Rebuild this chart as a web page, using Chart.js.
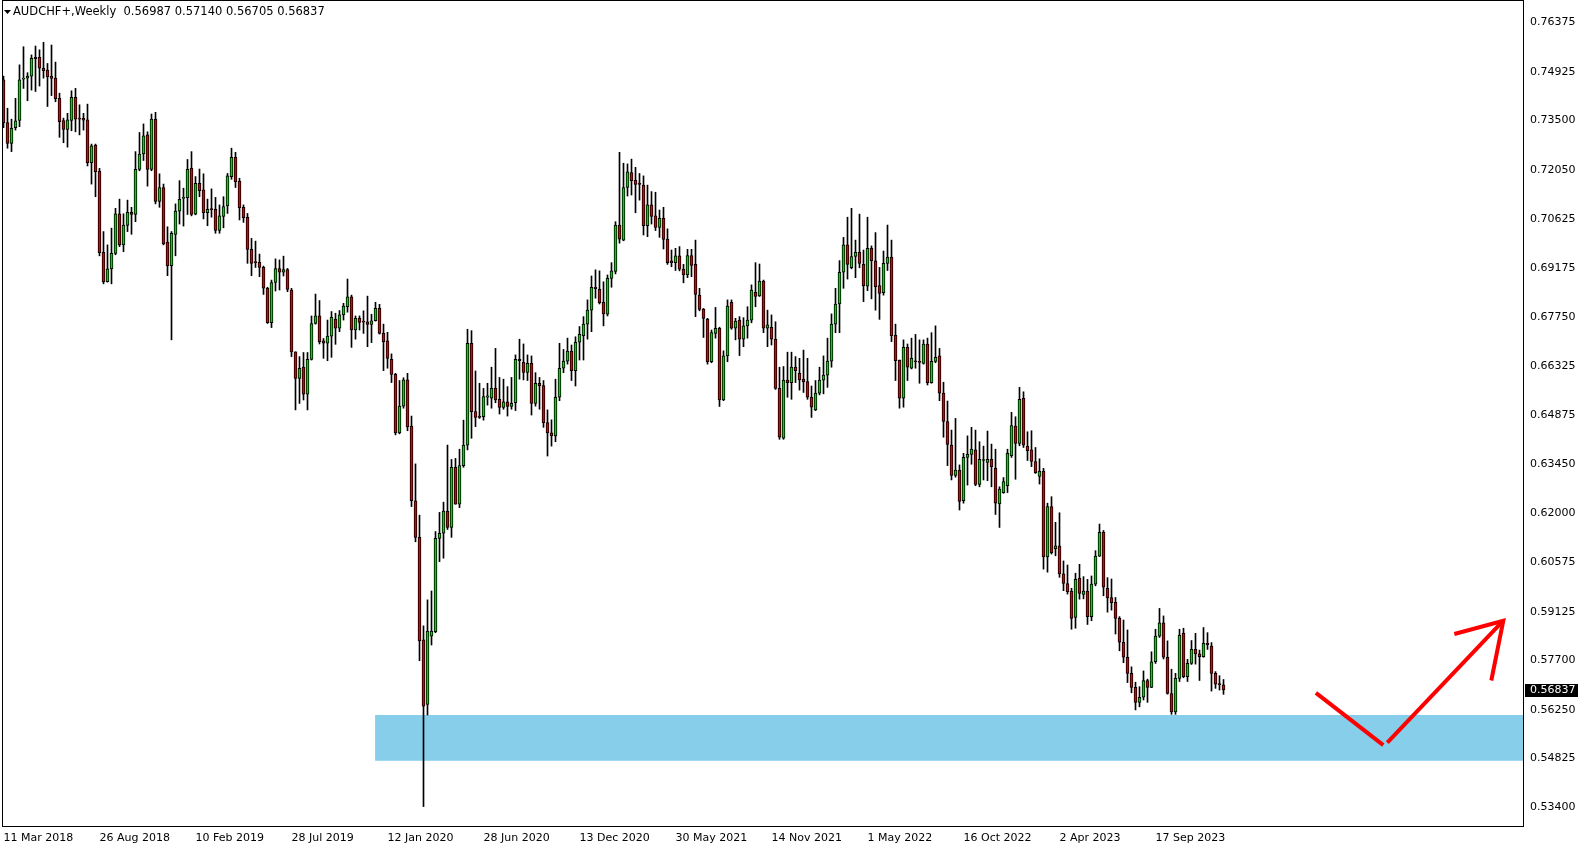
<!DOCTYPE html>
<html>
<head>
<meta charset="utf-8">
<title>AUDCHF+ Weekly</title>
<script src="https://cdn.jsdelivr.net/npm/chart.js@4.4.1/dist/chart.umd.min.js"></script>
<style>
  html, body { margin: 0; padding: 0; background: #fff; }
  #wrap { width: 1587px; height: 850px; }
</style>
</head>
<body>
<div id="wrap"><canvas id="chart" width="1587" height="850"></canvas></div>
<script>
// tick labels of the time axis, one every 24 weekly bars
const dateLabels = ["11 Mar 2018", "26 Aug 2018", "10 Feb 2019", "28 Jul 2019", "12 Jan 2020",
  "28 Jun 2020", "13 Dec 2020", "30 May 2021", "14 Nov 2021", "1 May 2022", "16 Oct 2022",
  "2 Apr 2023", "17 Sep 2023"];

// weekly candles, AUDCHF+
const opens = [
  0.7469,0.7344,0.7283,0.7329,0.7350,0.7471,0.7474,0.7480,0.7535,0.7535,
  0.7503,0.7498,0.7480,0.7474,0.7415,0.7350,0.7324,0.7350,0.7418,0.7357,
  0.7357,0.7352,0.7227,0.7278,0.7202,0.6964,0.6878,0.6916,0.6961,0.7077,
  0.6986,0.7043,0.7081,0.7075,0.7207,0.7252,0.7308,0.7207,0.7354,0.7113,
  0.7154,0.6994,0.6925,0.7017,0.7085,0.7122,0.7124,0.7210,0.7076,0.7166,
  0.7147,0.7080,0.7090,0.7090,0.7028,0.7069,0.7100,0.7186,0.7242,0.7173,
  0.7096,0.7067,0.6973,0.6936,0.6935,0.6920,0.6859,0.6758,0.6876,0.6917,
  0.6906,0.6914,0.6854,0.6673,0.6595,0.6628,0.6549,0.6651,0.6756,0.6778,
  0.6705,0.6698,0.6719,0.6769,0.6742,0.6781,0.6805,0.6834,0.6737,0.6771,
  0.6761,0.6761,0.6753,0.6764,0.6800,0.6727,0.6705,0.6651,0.6607,0.6436,
  0.6514,0.6591,0.6456,0.6237,0.6130,0.5830,0.5641,0.5841,0.5854,0.6127,
  0.6142,0.6207,0.6159,0.6335,0.6227,0.6340,0.6400,0.6698,0.6498,0.6485,
  0.6483,0.6540,0.6537,0.6566,0.6534,0.6510,0.6527,0.6513,0.6524,0.6651,
  0.6642,0.6613,0.6639,0.6522,0.6581,0.6574,0.6466,0.6436,0.6427,0.6540,
  0.6625,0.6646,0.6675,0.6618,0.6701,0.6720,0.6754,0.6795,0.6862,0.6856,
  0.6818,0.6783,0.6888,0.6908,0.7044,0.7000,0.7154,0.7198,0.7176,0.7165,
  0.7161,0.7042,0.7103,0.7071,0.7037,0.7064,0.7003,0.6939,0.6934,0.6954,
  0.6915,0.6898,0.6955,0.6929,0.6839,0.6798,0.6769,0.6644,0.6727,0.6742,
  0.6532,0.6661,0.6818,0.6742,0.6766,0.6710,0.6749,0.6766,0.6847,0.6837,
  0.6880,0.6742,0.6745,0.6710,0.6566,0.6420,0.6590,0.6583,0.6628,0.6610,
  0.6593,0.6586,0.6540,0.6503,0.6552,0.6590,0.6605,0.6646,0.6754,0.6813,
  0.6906,0.6986,0.6919,0.6952,0.6964,0.6929,0.6865,0.6976,0.6939,0.6867,
  0.6846,0.6932,0.6950,0.6722,0.6649,0.6537,0.6686,0.6625,0.6645,0.6645,
  0.6639,0.6696,0.6583,0.6645,0.6661,0.6552,0.6469,0.6400,0.6311,0.6327,
  0.6237,0.6364,0.6373,0.6386,0.6285,0.6356,0.6349,0.6358,0.6332,0.6228,
  0.6261,0.6281,0.6369,0.6456,0.6405,0.6537,0.6397,0.6386,0.6352,0.6308,
  0.6324,0.6073,0.6220,0.6097,0.6105,0.6023,0.5995,0.5973,0.5896,0.6010,
  0.5963,0.5973,0.5898,0.5993,0.6075,0.6145,0.5981,0.5954,0.5940,0.5893,
  0.5823,0.5779,0.5732,0.5691,0.5647,0.5662,0.5711,0.5691,0.5766,0.5841,
  0.5880,0.5779,0.5673,0.5619,0.5717,0.5849,0.5722,0.5761,0.5802,0.5789,
  0.5781,0.5820,0.5812,0.5732,0.5700,0.56987
];
const highs = [
  0.7480,0.7386,0.7354,0.7415,0.7513,0.7566,0.7490,0.7542,0.7568,0.7557,
  0.7579,0.7517,0.7571,0.7521,0.7430,0.7357,0.7371,0.7437,0.7444,0.7396,
  0.7371,0.7398,0.7281,0.7281,0.7210,0.7025,0.6986,0.7035,0.7093,0.7120,
  0.7077,0.7117,0.7096,0.7259,0.7315,0.7340,0.7317,0.7369,0.7374,0.7194,
  0.7164,0.7039,0.7025,0.7106,0.7174,0.7152,0.7236,0.7259,0.7186,0.7208,
  0.7194,0.7120,0.7150,0.7125,0.7103,0.7127,0.7195,0.7269,0.7257,0.7181,
  0.7103,0.7078,0.7005,0.6997,0.6959,0.6924,0.6862,0.6883,0.6945,0.6942,
  0.6953,0.6917,0.6859,0.6673,0.6659,0.6671,0.6671,0.6778,0.6842,0.6823,
  0.6712,0.6766,0.6791,0.6786,0.6794,0.6815,0.6886,0.6839,0.6778,0.6778,
  0.6793,0.6836,0.6783,0.6818,0.6812,0.6754,0.6730,0.6667,0.6610,0.6589,
  0.6597,0.6610,0.6485,0.6345,0.6195,0.5871,0.5947,0.5973,0.6147,0.6203,
  0.6233,0.6400,0.6358,0.6361,0.6388,0.6473,0.6739,0.6735,0.6617,0.6581,
  0.6566,0.6581,0.6628,0.6683,0.6598,0.6593,0.6571,0.6598,0.6664,0.6710,
  0.6696,0.6664,0.6661,0.6612,0.6598,0.6589,0.6503,0.6474,0.6593,0.6698,
  0.6680,0.6713,0.6693,0.6717,0.6747,0.6776,0.6825,0.6895,0.6913,0.6910,
  0.6878,0.6898,0.6934,0.7054,0.7257,0.7225,0.7223,0.7237,0.7213,0.7195,
  0.7188,0.7161,0.7142,0.7140,0.7088,0.7096,0.7033,0.6971,0.6976,0.6981,
  0.6929,0.6973,0.6973,0.7000,0.6859,0.6800,0.6771,0.6737,0.6803,0.6745,
  0.6676,0.6825,0.6825,0.6771,0.6776,0.6773,0.6805,0.6869,0.6934,0.6930,
  0.6883,0.6795,0.6781,0.6761,0.6628,0.6630,0.6672,0.6672,0.6659,0.6654,
  0.6678,0.6654,0.6573,0.6589,0.6628,0.6661,0.6713,0.6784,0.6859,0.6940,
  0.7008,0.7067,0.7093,0.7000,0.7076,0.6971,0.7067,0.6983,0.7022,0.6920,
  0.6968,0.7044,0.7000,0.6754,0.6649,0.6708,0.6696,0.6713,0.6724,0.6708,
  0.6708,0.6713,0.6729,0.6749,0.6683,0.6584,0.6529,0.6444,0.6478,0.6342,
  0.6376,0.6427,0.6452,0.6444,0.6410,0.6397,0.6441,0.6403,0.6388,0.6278,
  0.6305,0.6388,0.6496,0.6483,0.6569,0.6556,0.6439,0.6442,0.6393,0.6360,
  0.6332,0.6230,0.6249,0.6174,0.6202,0.6061,0.6049,0.5981,0.6025,0.6051,
  0.6015,0.6007,0.6017,0.6091,0.6169,0.6150,0.6012,0.6008,0.5954,0.5898,
  0.5888,0.5859,0.5751,0.5706,0.5693,0.5739,0.5715,0.5795,0.5861,0.5922,
  0.5900,0.5827,0.5744,0.5732,0.5861,0.5864,0.5773,0.5828,0.5849,0.5800,
  0.5866,0.5851,0.5822,0.5737,0.5725,0.57140
];
const lows = [
  0.7329,0.7269,0.7259,0.7322,0.7332,0.7444,0.7408,0.7439,0.7435,0.7451,
  0.7474,0.7391,0.7423,0.7405,0.7301,0.7285,0.7272,0.7320,0.7317,0.7308,
  0.7322,0.7217,0.7164,0.7127,0.6954,0.6872,0.6877,0.6872,0.6957,0.6981,
  0.6966,0.7025,0.7017,0.7054,0.7203,0.7233,0.7158,0.7203,0.7106,0.7096,
  0.6986,0.6896,0.6708,0.6954,0.7047,0.7041,0.7075,0.7071,0.7074,0.7127,
  0.7062,0.7042,0.7067,0.7020,0.7020,0.7036,0.7078,0.7178,0.7154,0.7059,
  0.7052,0.6932,0.6896,0.6920,0.6893,0.6841,0.6756,0.6744,0.6851,0.6854,
  0.6895,0.6849,0.6659,0.6503,0.6522,0.6532,0.6503,0.6649,0.6754,0.6696,
  0.6654,0.6647,0.6657,0.6695,0.6732,0.6766,0.6789,0.6686,0.6710,0.6737,
  0.6727,0.6688,0.6700,0.6763,0.6725,0.6618,0.6625,0.6583,0.6430,0.6433,
  0.6508,0.6442,0.6220,0.6117,0.5769,0.5342,0.5610,0.5815,0.5851,0.6059,
  0.6069,0.6153,0.6130,0.6227,0.6217,0.6335,0.6386,0.6420,0.6454,0.6478,
  0.6473,0.6517,0.6508,0.6524,0.6491,0.6505,0.6485,0.6505,0.6501,0.6593,
  0.6591,0.6589,0.6488,0.6514,0.6505,0.6452,0.6368,0.6397,0.6410,0.6530,
  0.6612,0.6637,0.6589,0.6573,0.6649,0.6649,0.6710,0.6732,0.6830,0.6813,
  0.6749,0.6778,0.6862,0.6901,0.6991,0.6998,0.7129,0.7132,0.7080,0.7117,
  0.7015,0.7010,0.7047,0.7028,0.7008,0.6974,0.6929,0.6922,0.6911,0.6910,
  0.6875,0.6890,0.6893,0.6776,0.6793,0.6715,0.6637,0.6641,0.6713,0.6513,
  0.6530,0.6644,0.6739,0.6708,0.6662,0.6688,0.6713,0.6758,0.6805,0.6835,
  0.6729,0.6688,0.6693,0.6563,0.6417,0.6417,0.6540,0.6534,0.6583,0.6561,
  0.6554,0.6534,0.6481,0.6501,0.6547,0.6550,0.6569,0.6628,0.6729,0.6729,
  0.6859,0.6886,0.6916,0.6890,0.6919,0.6820,0.6852,0.6828,0.6795,0.6768,
  0.6839,0.6911,0.6703,0.6589,0.6508,0.6511,0.6589,0.6623,0.6625,0.6581,
  0.6637,0.6576,0.6581,0.6641,0.6530,0.6423,0.6340,0.6298,0.6306,0.6210,
  0.6230,0.6283,0.6344,0.6281,0.6278,0.6298,0.6296,0.6278,0.6197,0.6159,
  0.6259,0.6261,0.6364,0.6300,0.6398,0.6393,0.6355,0.6337,0.6317,0.6286,
  0.6037,0.6028,0.6081,0.6076,0.6013,0.5974,0.5964,0.5861,0.5864,0.5949,
  0.5950,0.5875,0.5886,0.5988,0.6074,0.5959,0.5911,0.5917,0.5847,0.5798,
  0.5763,0.5705,0.5675,0.5625,0.5634,0.5654,0.5647,0.5690,0.5761,0.5837,
  0.5774,0.5671,0.5612,0.5612,0.5708,0.5719,0.5708,0.5758,0.5759,0.5711,
  0.5779,0.5802,0.5680,0.5688,0.5683,0.56705
];
const closes = [
  0.7344,0.7283,0.7327,0.7349,0.7469,0.7472,0.7480,0.7532,0.7531,0.7503,
  0.7496,0.7478,0.7473,0.7414,0.7347,0.7324,0.7352,0.7418,0.7354,0.7354,
  0.7351,0.7227,0.7276,0.7200,0.6963,0.6878,0.6916,0.6961,0.7077,0.6986,
  0.7044,0.7081,0.7075,0.7207,0.7252,0.7305,0.7207,0.7354,0.7113,0.7154,
  0.6989,0.6925,0.7020,0.7085,0.7119,0.7125,0.7207,0.7075,0.7166,0.7145,
  0.7080,0.7090,0.7089,0.7028,0.7071,0.7098,0.7188,0.7242,0.7171,0.7095,
  0.7066,0.6973,0.6932,0.6934,0.6920,0.6859,0.6758,0.6876,0.6917,0.6906,
  0.6914,0.6856,0.6673,0.6595,0.6625,0.6549,0.6651,0.6756,0.6778,0.6703,
  0.6698,0.6719,0.6774,0.6742,0.6781,0.6807,0.6834,0.6737,0.6771,0.6759,
  0.6760,0.6753,0.6764,0.6800,0.6727,0.6703,0.6654,0.6607,0.6436,0.6514,
  0.6591,0.6454,0.6237,0.6130,0.5827,0.5636,0.5856,0.5856,0.6127,0.6142,
  0.6207,0.6159,0.6335,0.6227,0.6340,0.6400,0.6698,0.6498,0.6481,0.6481,
  0.6542,0.6544,0.6566,0.6532,0.6510,0.6527,0.6513,0.6522,0.6651,0.6647,
  0.6613,0.6639,0.6522,0.6581,0.6574,0.6466,0.6436,0.6427,0.6540,0.6625,
  0.6646,0.6675,0.6618,0.6701,0.6724,0.6754,0.6795,0.6862,0.6858,0.6817,
  0.6784,0.6888,0.6910,0.7044,0.7003,0.7154,0.7200,0.7174,0.7163,0.7163,
  0.7042,0.7103,0.7069,0.7037,0.7064,0.7002,0.6934,0.6934,0.6954,0.6915,
  0.6898,0.6955,0.6926,0.6841,0.6797,0.6771,0.6644,0.6729,0.6742,0.6532,
  0.6661,0.6807,0.6742,0.6763,0.6710,0.6749,0.6766,0.6854,0.6835,0.6880,
  0.6742,0.6752,0.6710,0.6566,0.6423,0.6590,0.6583,0.6628,0.6618,0.6591,
  0.6586,0.6540,0.6511,0.6552,0.6590,0.6605,0.6646,0.6754,0.6813,0.6906,
  0.6986,0.6929,0.6952,0.6964,0.6932,0.6867,0.6976,0.6940,0.6864,0.6844,
  0.6932,0.6950,0.6720,0.6647,0.6537,0.6686,0.6628,0.6654,0.6644,0.6642,
  0.6696,0.6583,0.6645,0.6657,0.6552,0.6469,0.6402,0.6311,0.6327,0.6235,
  0.6364,0.6373,0.6388,0.6285,0.6358,0.6355,0.6358,0.6337,0.6230,0.6271,
  0.6293,0.6376,0.6457,0.6405,0.6534,0.6400,0.6384,0.6352,0.6319,0.6324,
  0.6073,0.6220,0.6085,0.6105,0.6023,0.5995,0.5971,0.5893,0.6007,0.5966,
  0.5973,0.5898,0.5993,0.6075,0.6145,0.5984,0.5953,0.5939,0.5893,0.5823,
  0.5779,0.5732,0.5691,0.5647,0.5662,0.5711,0.5691,0.5766,0.5841,0.5880,
  0.5779,0.5673,0.5619,0.5717,0.5844,0.5722,0.5761,0.5802,0.5789,0.5781,
  0.5820,0.5816,0.5732,0.5700,0.5699,0.56837
];

// price scale labels (right side)
const priceTicks = [0.76375, 0.74925, 0.73500, 0.72050, 0.70625, 0.69175, 0.67750, 0.66325,
  0.64875, 0.63450, 0.62000, 0.60575, 0.59125, 0.57700, 0.56250, 0.54825, 0.53400];

// support zone (bar index where it starts, price band)
const zoneFrom = 92.9;
const zoneHigh = 0.5610;
const zoneLow = 0.5476;

// hand drawn projection: dip into the zone then up
const dipX = [328.1, 344.95];
const dipY = [0.5675, 0.5522];
const riseX = [345.95, 374.95];
const riseY = [0.5529, 0.5886];
const headX = [362.7, 374.95, 371.95];
const headY = [0.5847, 0.5886, 0.5711];

const symbolName = "AUDCHF+,Weekly";
const bullColor = "#00d800";
const bearColor = "#e00000";
const fontFamily = "'DejaVu Sans', sans-serif";

Chart.defaults.font.family = fontFamily;
Chart.defaults.font.size = 11;
Chart.defaults.color = "#000";

const toPoints = (xs, ys) => xs.map((x, i) => ({ x: x, y: ys[i] }));
const arrowLine = pts => ({
  type: "line", order: -1, data: pts, borderColor: "#ff0000", borderWidth: 4,
  pointRadius: 0, fill: false, tension: 0, borderCapStyle: "butt"
});

// zone behind the candles, frame, header and last price label
const mtDecor = {
  id: "mtDecor",
  beforeDatasetsDraw(chart) {
    const { ctx, chartArea: a, scales: { x, y } } = chart;
    const left = x.getPixelForValue(zoneFrom);
    const top = y.getPixelForValue(zoneHigh);
    const bottom = y.getPixelForValue(zoneLow);
    ctx.save();
    ctx.fillStyle = "#87ceeb";
    ctx.fillRect(left, top, a.right - left, bottom - top);
    ctx.restore();
  },
  afterDraw(chart) {
    const { ctx, chartArea: a, scales: { y } } = chart;
    ctx.save();
    ctx.strokeStyle = "#000";
    ctx.lineWidth = 1;
    ctx.strokeRect(a.left + 0.5, a.top - 0.5, a.right - a.left, a.bottom - a.top + 1);

    // header
    const n = closes.length - 1;
    const quote = [opens[n], highs[n], lows[n], closes[n]].map(v => v.toFixed(5)).join(" ");
    ctx.fillStyle = "#000";
    ctx.beginPath();
    ctx.moveTo(4, 10); ctx.lineTo(11, 10); ctx.lineTo(7.5, 14); ctx.closePath();
    ctx.fill();
    ctx.font = "11.5px " + fontFamily;
    ctx.textBaseline = "middle";
    ctx.textAlign = "left";
    ctx.fillText(symbolName + "  " + quote, 13, 12);

    // last price on the scale
    const py = Math.round(y.getPixelForValue(closes[n]));
    ctx.fillStyle = "#000";
    ctx.fillRect(a.right + 2, py - 6, 53, 13);
    ctx.fillStyle = "#fff";
    ctx.font = "11px " + fontFamily;
    ctx.fillText(closes[n].toFixed(5), a.right + 7, py + 0.5);
    ctx.restore();
  }
};

new Chart(document.getElementById("chart"), {
  type: "bar",
  data: {
    datasets: [
      {
        label: "body", order: 0, grouped: false,
        data: opens.map((o, i) => ({ x: i, y: [Math.min(o, closes[i]), Math.max(o, closes[i])] })),
        backgroundColor: c => closes[c.dataIndex] > opens[c.dataIndex] ? bullColor : bearColor,
        borderColor: "#000", borderWidth: 1, borderSkipped: false,
        barThickness: 3, minBarLength: 1
      },
      {
        label: "wick", order: 1, grouped: false,
        data: highs.map((h, i) => ({ x: i, y: [lows[i], h] })),
        backgroundColor: "#000", borderWidth: 0, barThickness: 1
      },
      arrowLine(toPoints(dipX, dipY)),
      arrowLine(toPoints(riseX, riseY)),
      arrowLine(toPoints(headX, headY))
    ]
  },
  options: {
    responsive: false,
    animation: false,
    devicePixelRatio: 1,
    layout: { padding: { left: 2, top: 1, right: 0, bottom: 0 } },
    plugins: { legend: { display: false }, tooltip: { enabled: false } },
    scales: {
      x: {
        type: "linear", min: -0.375, max: 379.875, offset: false,
        grid: { display: false, drawTicks: false }, border: { display: false },
        afterBuildTicks: s => { s.ticks = dateLabels.map((d, k) => ({ value: k * 24 })); },
        afterFit: s => { s.height = 24; s.paddingLeft = 0; s.paddingRight = 0; },
        ticks: { autoSkip: false, maxRotation: 0, align: "start", padding: 6,
          callback: (v, i) => dateLabels[i] }
      },
      y: {
        type: "linear", position: "right", min: 0.528515, max: 0.769984,
        grid: { display: false, drawTicks: false }, border: { display: false },
        afterBuildTicks: s => { s.ticks = priceTicks.map(v => ({ value: v })); },
        afterFit: s => { s.width = 64; s.paddingTop = 0; s.paddingBottom = 0; },
        ticks: { autoSkip: false, padding: 7, callback: v => v.toFixed(5) }
      }
    }
  },
  plugins: [mtDecor]
});
</script>
</body>
</html>
